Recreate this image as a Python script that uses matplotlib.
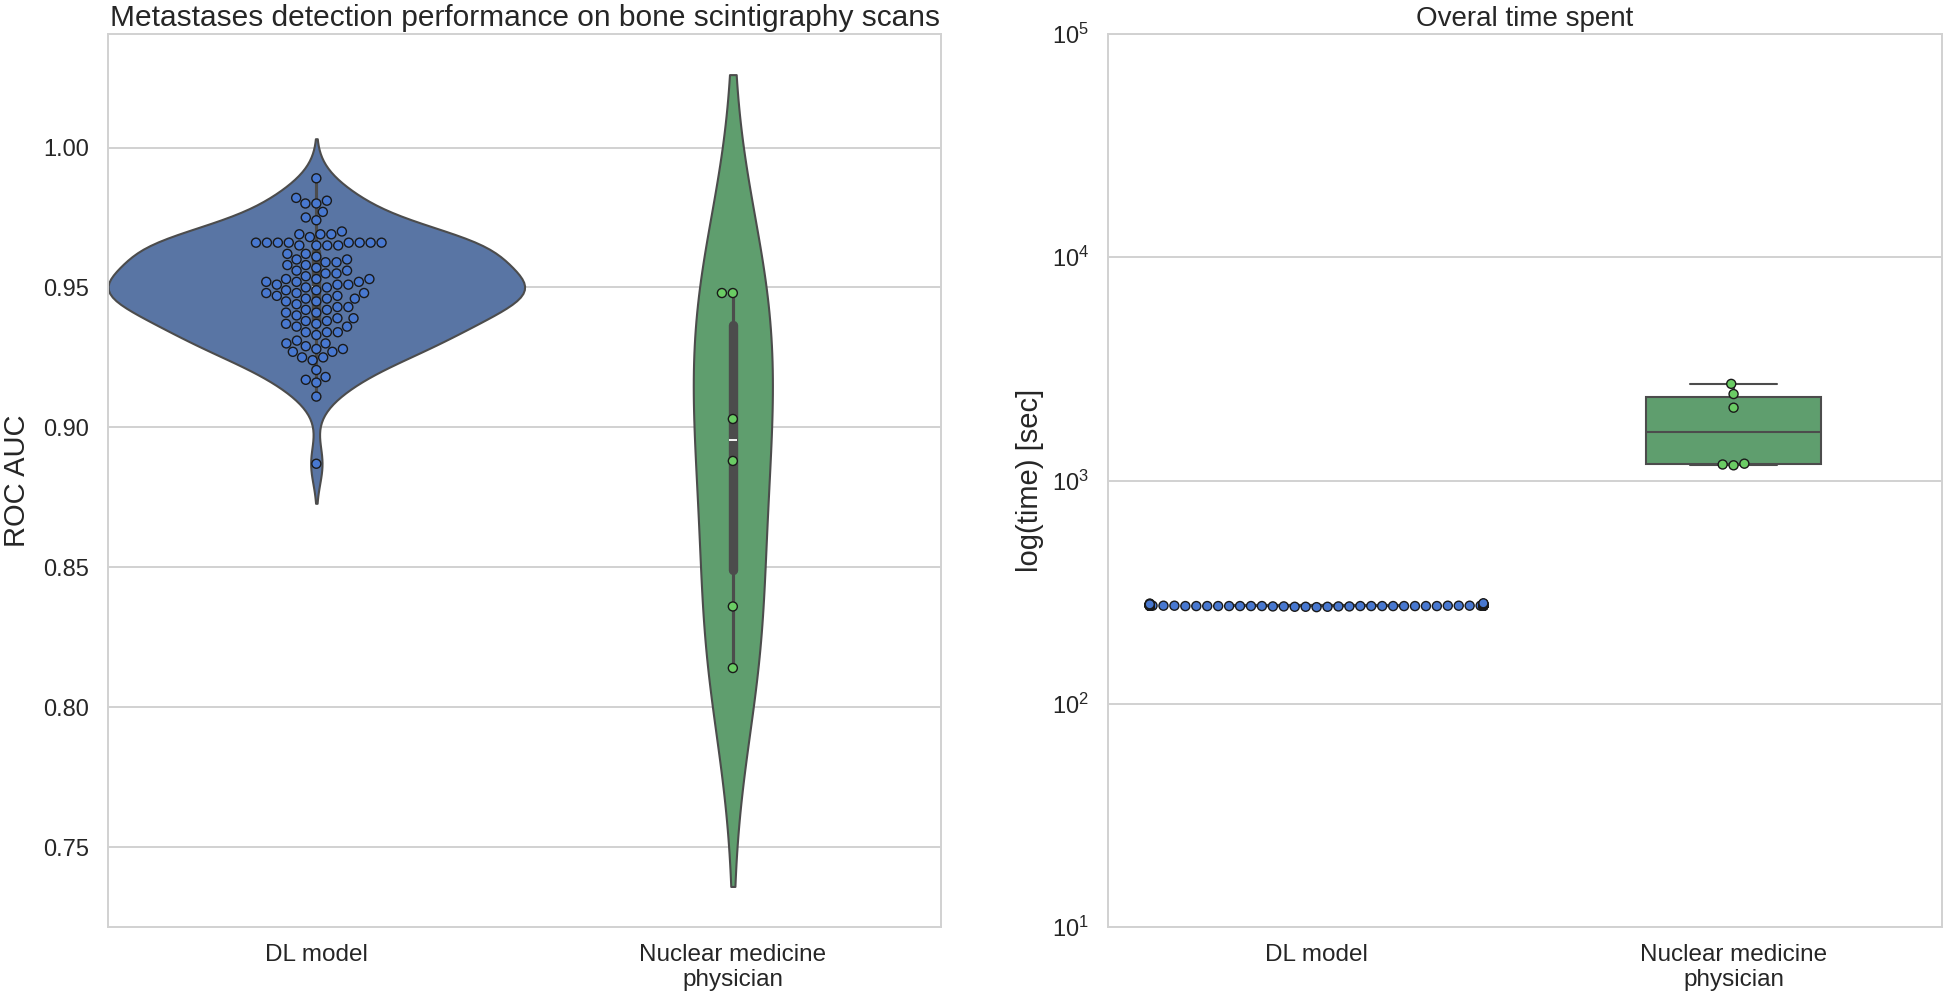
import matplotlib
matplotlib.use("Agg")
import matplotlib.pyplot as plt
import pandas as pd
import seaborn as sns

# Kategorien
groups = ["DL model", "Nuclear medicine\nphysician"]

# ROC AUC pro Modell / Arzt
dl_auc = [
    0.989,
    0.982,
    0.980, 0.980, 0.981,
    0.977,
    0.975, 0.974,
    0.970, 0.969, 0.969, 0.968, 0.969,
    0.966, 0.966, 0.966, 0.966, 0.966, 0.966, 0.966, 0.966, 0.965, 0.965, 0.965, 0.965,
    0.962, 0.962, 0.961, 0.960, 0.960, 0.959, 0.959, 0.958, 0.958,
    0.957, 0.956, 0.956, 0.955, 0.955, 0.954,
    0.953, 0.953, 0.953, 0.952, 0.952, 0.952, 0.951, 0.951, 0.951, 0.950, 0.950,
    0.949, 0.949, 0.948, 0.948, 0.948, 0.947, 0.947, 0.946, 0.946, 0.946, 0.945, 0.945,
    0.944, 0.943, 0.943, 0.942, 0.942, 0.941, 0.941, 0.940,
    0.939, 0.939, 0.938, 0.938, 0.937, 0.937, 0.936, 0.936,
    0.934, 0.934, 0.934, 0.933,
    0.931, 0.930, 0.930, 0.929,
    0.928, 0.928, 0.927, 0.927,
    0.925, 0.925, 0.924,
    0.9205,
    0.918, 0.917, 0.916,
    0.911,
    0.887,
]
phys_auc = [0.948, 0.948, 0.903, 0.888, 0.836, 0.814]

# Zeitaufwand in Sekunden
dl_time = [
    276, 275, 277, 274, 276, 275, 278, 275, 276, 274,
    275, 277, 276, 275, 274, 276, 275, 277, 275, 276,
    274, 275, 276, 278, 275, 276, 275, 274, 277, 275,
    276, 275, 274, 276, 275, 277, 275, 276, 275, 274,
    273, 272, 274, 273, 272, 271, 273, 272, 274, 273,
    276, 275, 277, 274, 276, 275, 278, 275, 276, 274,
    275, 277, 276, 275, 274, 276, 275, 277, 275, 276,
    274, 275, 276, 279, 275, 276, 275, 274, 277, 275,
    276, 275, 274, 276, 275, 277, 275, 276, 275, 274,
    280, 279, 281, 278, 280, 279, 282, 278, 280, 279,
]
phys_time = [2710, 2440, 2120, 1190, 1180, 1170]

df_auc = pd.DataFrame({
    "group": [groups[0]] * len(dl_auc) + [groups[1]] * len(phys_auc),
    "auc": dl_auc + phys_auc,
})
df_time = pd.DataFrame({
    "group": [groups[0]] * len(dl_time) + [groups[1]] * len(phys_time),
    "time": dl_time + phys_time,
})

sns.set_style("whitegrid")
plt.rcParams["font.family"] = ["Liberation Sans", "DejaVu Sans"]
plt.rcParams["mathtext.default"] = "regular"

deep = sns.color_palette("deep")
muted = sns.color_palette("muted")
box_cols = {groups[0]: deep[0], groups[1]: deep[2]}     # blau / gruen
dot_cols = {groups[0]: muted[0], groups[1]: muted[2]}

fig = plt.figure(figsize=(19.44, 9.98), dpi=100)
ax1 = fig.add_axes([0.0556, 0.0711, 0.4285, 0.8948])
ax2 = fig.add_axes([0.5700, 0.0711, 0.4290, 0.8948])

# --- links: Violin + Swarm ---
# Breite je Gruppe getrennt, damit das Verhaeltnis wie im Original passt
violin_width = {groups[0]: 1.0, groups[1]: 0.19}
for g in groups:
    sns.violinplot(data=df_auc[df_auc["group"] == g], x="group", y="auc",
                   hue="group", palette=box_cols, order=groups,
                   width=violin_width[g], linewidth=1.5, inner="box",
                   density_norm="width", legend=False, ax=ax1)
sns.swarmplot(data=df_auc, x="group", y="auc", hue="group", palette=dot_cols,
              order=groups, size=6.5, edgecolor="0.1", linewidth=1,
              legend=False, ax=ax1)
ax1.set_title("Metastases detection performance on bone scintigraphy scans", fontsize=21.5)
ax1.set_ylabel("ROC AUC", fontsize=21, labelpad=9)
ax1.set_xlabel("")
ax1.set_xlim(-0.5, 1.5)

# --- rechts: Box + Swarm, log-Skala ---
sns.boxplot(data=df_time, x="group", y="time", hue="group", palette=box_cols,
            order=groups, width=0.42, linewidth=1.5, showfliers=False,
            legend=False, ax=ax2)
sns.swarmplot(data=df_time, x="group", y="time", hue="group", palette=dot_cols,
              order=groups, size=6.5, edgecolor="0.1", linewidth=1,
              legend=False, ax=ax2)
ax2.set_yscale("log")
ax2.set_ylim(10, 1e5)
ax2.set_title("Overal time spent", fontsize=20)
ax2.set_ylabel("log(time) [sec]", fontsize=21, labelpad=6)
ax2.set_xlabel("")
ax2.set_xlim(-0.5, 1.5)

for ax in (ax1, ax2):
    ax.tick_params(axis="y", labelsize=17, pad=10)
    ax.tick_params(axis="x", labelsize=17.5, pad=8.5)
    ax.grid(axis="x", visible=False)
    ax.grid(axis="y", color="0.82", linewidth=1.4)
    for sp in ax.spines.values():
        sp.set_color("0.82")
        sp.set_linewidth(1.4)

fig.savefig("out.png", dpi=100)
